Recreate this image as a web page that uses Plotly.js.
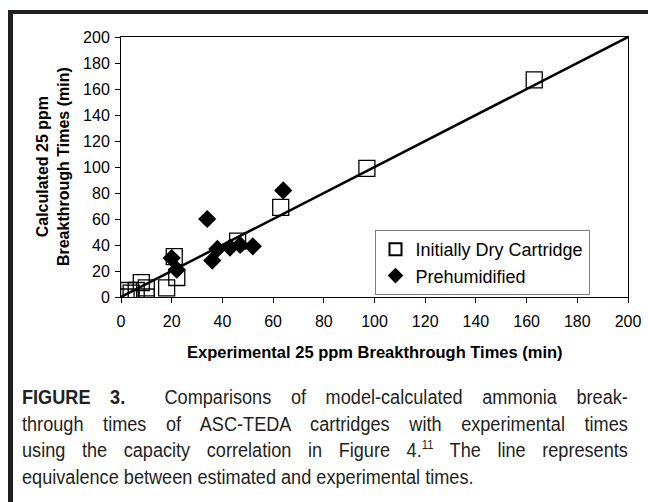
<!DOCTYPE html>
<html>
<head>
<meta charset="utf-8">
<script src="https://cdn.plot.ly/plotly-3.0.1.min.js"></script>
<style>
  html, body { margin: 0; padding: 0; background: #fff; }
  #wrap { position: relative; width: 648px; height: 502px; overflow: hidden; }
  #frameTop { position: absolute; left: 8px; top: 10px; width: 640px; height: 4px; background: #231f20; }
  #frameLeft { position: absolute; left: 8px; top: 10px; width: 5px; height: 492px; background: #231f20; }
  #chart { position: absolute; left: 0; top: 0; width: 648px; height: 502px; }
  #caption { position: absolute; left: 22px; top: 384px; width: 648px;
    transform: scaleX(0.935); transform-origin: 0 0;
    font-family: "Liberation Sans", Arial, Helvetica, sans-serif; font-size: 19.4px;
    line-height: 26.7px; color: #231f20; }
  #caption .j { text-align: justify; text-align-last: justify; white-space: nowrap; }
  #caption .l { text-align: left; white-space: nowrap; }
  #caption sup { font-size: 12px; line-height: 0; vertical-align: 8px; }
</style>
</head>
<body>
<div id="wrap">
  <div id="chart"></div>
  <div id="frameTop"></div>
  <div id="frameLeft"></div>
  <div id="caption">
    <div class="j"><b>FIGURE 3.</b>&nbsp; Comparisons of model-calculated ammonia break-</div>
    <div class="j">through times of ASC-TEDA cartridges with experimental times</div>
    <div class="j">using the capacity correlation in Figure 4.<sup>11</sup> The line represents</div>
    <div class="l">equivalence between estimated and experimental times.</div>
  </div>
</div>
<script>
// Data
var dryExperimental = [163, 97, 63, 46, 21, 22, 18, 8, 10, 4, 2, 10, 6, 3];
var dryCalculated   = [167, 99, 69, 43, 31, 15, 7, 11, 7, 3, 0, 0, 5, 5];
var wetExperimental = [64, 34, 20, 22, 36, 38, 43, 47, 52];
var wetCalculated   = [82, 60, 30, 21, 28, 37, 38, 40, 39];
var equivX = [0, 200];
var equivY = [0, 200];
var tickVals = [0, 20, 40, 60, 80, 100, 120, 140, 160, 180, 200];
var seriesNames = ["Initially Dry Cartridge", "Prehumidified"];

var FONT = '"Liberation Sans", Arial, Helvetica, sans-serif';

var traces = [
  { x: equivX, y: equivY, mode: 'lines', line: { color: '#000', width: 2.5 },
    showlegend: false, hoverinfo: 'skip' },
  { x: dryExperimental, y: dryCalculated, mode: 'markers', name: seriesNames[0],
    marker: { symbol: 'square-open', size: 16, color: '#000', line: { width: 1.3, color: '#000' } } },
  { x: wetExperimental, y: wetCalculated, mode: 'markers', name: seriesNames[1],
    marker: { symbol: 'diamond', size: 14, color: '#000', line: { width: 0 } } }
];

var axisCommon = {
  range: [0, 200], tickvals: tickVals, ticks: 'outside', ticklen: 5, tickwidth: 1,
  tickcolor: '#000', showline: true, mirror: true, linecolor: '#000', linewidth: 1,
  showgrid: false, zeroline: false, tickfont: { family: FONT, size: 16, color: '#000' }
};

var layout = {
  width: 648, height: 502,
  margin: { l: 121, r: 20, t: 37, b: 205 },
  paper_bgcolor: 'rgba(0,0,0,0)', plot_bgcolor: '#fff',
  font: { family: FONT, color: '#000' },
  xaxis: Object.assign({}, axisCommon, { ticklabelstandoff: 5 }),
  yaxis: Object.assign({}, axisCommon, { ticklabelstandoff: 2 }),
  showlegend: true,
  legend: {
    x: 0.5, y: 0.2577, xanchor: 'left', yanchor: 'top',
    bgcolor: '#fff', bordercolor: '#808080', borderwidth: 1,
    font: { family: FONT, size: 18, color: '#000' }, itemsizing: 'constant', itemwidth: 30
  },
  annotations: [
    { text: '<b>Experimental 25 ppm Breakthrough Times (min)</b>', xref: 'paper', yref: 'paper',
      x: 0.5, y: -0.2115, xanchor: 'center', yanchor: 'middle', showarrow: false,
      font: { family: FONT, size: 16.5, color: '#000' } },
    { text: '<b>Calculated 25 ppm<br>Breakthrough Times (min)</b>', xref: 'paper', yref: 'paper',
      x: -0.134, y: 0.5, xanchor: 'center', yanchor: 'middle', showarrow: false, textangle: -90,
      font: { family: FONT, size: 16, color: '#000' } }
  ]
};

Plotly.newPlot('chart', traces, layout, { displayModeBar: false, staticPlot: true });
</script>
</body>
</html>
